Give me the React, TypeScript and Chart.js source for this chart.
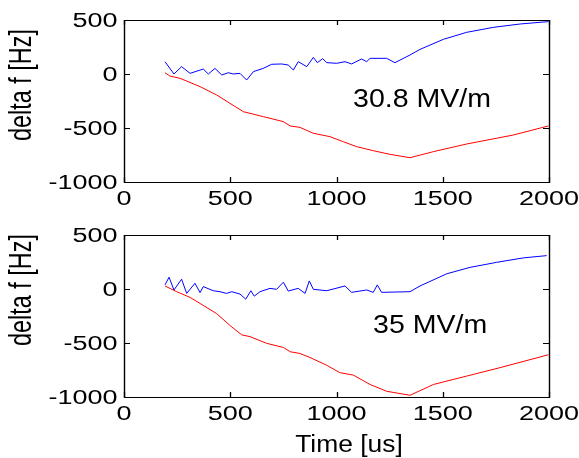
import React, { useEffect, useRef } from 'react';
import { Chart, registerables } from 'chart.js';

Chart.register(...registerables);

// ---------- data ----------
const xTickValues = [0, 500, 1000, 1500, 2000];
const yTickValues = [-1000, -500, 0, 500];
const xTickLabels = ['0', '500', '1000', '1500', '2000'];
const yTickLabels = ['-1000', '-500', '0', '500'];

const yAxisTitle = 'delta f [Hz]';
const xAxisTitle = 'Time [us]';
const topLabel = '30.8 MV/m';
const bottomLabel = '35 MV/m';

// top panel (30.8 MV/m)
const topBlueX = [193, 235, 271, 311, 373, 397, 428, 460, 491, 515, 546, 577, 609, 655, 695, 742, 773, 797, 820, 860, 891, 910, 935, 954, 1001, 1040, 1071, 1118, 1142, 1158, 1236, 1275, 1346, 1393, 1503, 1613, 1738, 1864, 1997];
const topBlueY = [114, 0, 68, 6, 46, 0, 52, -9, 12, 0, 6, -56, 22, 52, 90, 93, 83, 37, 114, 68, 154, 105, 142, 105, 99, 114, 93, 139, 114, 145, 145, 105, 176, 228, 321, 386, 432, 463, 485];
const topRedX = [193, 216, 264, 358, 436, 499, 562, 656, 750, 782, 828, 891, 969, 1032, 1095, 1173, 1252, 1346, 1456, 1613, 1832, 1997];
const topRedY = [12, -19, -40, -117, -194, -272, -349, -395, -441, -481, -494, -549, -580, -627, -673, -710, -744, -775, -719, -648, -565, -481];

// bottom panel (35 MV/m)
const botBlueX = [193, 212, 235, 271, 295, 334, 358, 373, 420, 452, 483, 507, 546, 573, 597, 613, 640, 687, 718, 750, 773, 820, 852, 872, 891, 954, 1040, 1071, 1142, 1173, 1192, 1212, 1346, 1393, 1519, 1628, 1754, 1879, 1989];
const botBlueY = [38, 109, -9, 91, -41, 53, -34, 22, -16, -25, -41, -25, -47, -94, -16, -66, -25, 6, -3, 63, -19, 6, -41, 75, -3, -16, 28, -31, -9, -31, 38, -31, -25, 28, 141, 200, 247, 288, 309];
const botRedX = [193, 248, 311, 358, 436, 499, 554, 593, 671, 750, 782, 828, 875, 954, 1016, 1079, 1158, 1236, 1346, 1456, 1613, 1770, 1997];
const botRedY = [28, -25, -78, -134, -228, -338, -425, -441, -503, -541, -581, -597, -634, -706, -775, -797, -884, -947, -984, -884, -806, -728, -609];

const annotationTop = { x: 1078, y: -303 };
const annotationBottom = { x: 1172, y: -410 };

const FONT = '"Liberation Sans", Arial, sans-serif';

function drawText(ctx: CanvasRenderingContext2D, text: string, x: number, y: number, size: number, sx: number, align: CanvasTextAlign) {
  ctx.save();
  ctx.translate(x, y);
  ctx.scale(sx, 1);
  ctx.font = `${size}px ${FONT}`;
  ctx.fillStyle = '#000';
  ctx.textAlign = align;
  ctx.textBaseline = 'alphabetic';
  ctx.fillText(text, 0, 0);
  ctx.restore();
}

const matlabPlugin = {
  id: 'matlabAxes',
  afterDraw(chart: any, _args: any, opts: any) {
    const ctx: CanvasRenderingContext2D = chart.ctx;
    const a = chart.chartArea;
    const xs = chart.scales.x;
    const ys = chart.scales.y;
    ctx.save();
    ctx.strokeStyle = '#000';
    const L = Math.round(a.left), R = Math.round(a.right), T = Math.round(a.top), B = Math.round(a.bottom);
    // box
    ctx.lineWidth = 1;
    ctx.beginPath();
    ctx.moveTo(L, T + 0.5); ctx.lineTo(R, T + 0.5);
    ctx.moveTo(L, B + 0.5); ctx.lineTo(R, B + 0.5);
    ctx.stroke();
    ctx.lineWidth = 1.4;
    ctx.beginPath();
    ctx.moveTo(L + 0.5, T); ctx.lineTo(L + 0.5, B + 1);
    ctx.moveTo(R + 0.5, T); ctx.lineTo(R + 0.5, B + 1);
    ctx.stroke();
    // inward ticks
    ctx.lineWidth = 1.3;
    ctx.beginPath();
    xTickValues.forEach((v) => {
      const px = Math.round(xs.getPixelForValue(v)) + 0.5;
      ctx.moveTo(px, B); ctx.lineTo(px, B - 5);
      ctx.moveTo(px, T); ctx.lineTo(px, T + 5);
    });
    ctx.stroke();
    ctx.lineWidth = 1;
    ctx.beginPath();
    yTickValues.forEach((v) => {
      const py = Math.round(ys.getPixelForValue(v)) + 0.5;
      ctx.moveTo(L, py); ctx.lineTo(L + 6, py);
      ctx.moveTo(R, py); ctx.lineTo(R - 6, py);
    });
    ctx.stroke();
    ctx.restore();

    // tick labels
    xTickValues.forEach((v, i) => {
      drawText(ctx, xTickLabels[i], xs.getPixelForValue(v), a.bottom + 22.5, 20, 1.35, 'center');
    });
    yTickValues.forEach((v, i) => {
      drawText(ctx, yTickLabels[i], a.left - 6.5, ys.getPixelForValue(v) + 7.2, 20, 1.35, 'right');
    });

    // y title (rotated)
    ctx.save();
    ctx.translate(31, opts.yTitleCenter);
    ctx.rotate(-Math.PI / 2);
    ctx.scale(1, 1.35);
    ctx.font = `23.4px ${FONT}`;
    ctx.fillStyle = '#000';
    ctx.textAlign = 'center';
    ctx.textBaseline = 'alphabetic';
    ctx.fillText(yAxisTitle, 0, 0);
    ctx.restore();

    // annotation
    if (opts.note) {
      drawText(ctx, opts.note.text, xs.getPixelForValue(opts.note.x), ys.getPixelForValue(opts.note.y), 25.6, 1.115, 'left');
    }
    // x title
    if (opts.xTitle) {
      drawText(ctx, xAxisTitle, opts.xTitle.x, opts.xTitle.y, 24.7, 1.07, 'center');
    }
  },
};

function toPoints(xs: number[], ys: number[]) {
  return xs.map((x, i) => ({ x, y: ys[i] }));
}

function makeConfig(blueX: number[], blueY: number[], redX: number[], redY: number[], padTop: number, xAxisHeight: number, pluginOpts: any): any {
  return {
    type: 'line',
    data: {
      datasets: [
        { data: toPoints(blueX, blueY), borderColor: 'rgb(0,0,255)', borderWidth: 1, pointRadius: 0, tension: 0, fill: false },
        { data: toPoints(redX, redY), borderColor: 'rgb(255,0,0)', borderWidth: 1, pointRadius: 0, tension: 0, fill: false },
      ],
    },
    options: {
      responsive: false,
      animation: false,
      events: [],
      layout: { padding: { top: padTop, right: 30, left: 0, bottom: 0 } },
      plugins: {
        legend: { display: false },
        tooltip: { enabled: false },
        matlabAxes: pluginOpts,
      },
      scales: {
        x: {
          type: 'linear',
          min: 0,
          max: 2000,
          ticks: { stepSize: 500, display: false },
          grid: { display: false, drawTicks: false },
          border: { display: false },
          afterFit: (s: any) => { s.height = xAxisHeight; s.paddingLeft = 0; s.paddingRight = 0; },
        },
        y: {
          type: 'linear',
          min: -1000,
          max: 500,
          ticks: { stepSize: 500, display: false },
          grid: { display: false, drawTicks: false },
          border: { display: false },
          afterFit: (s: any) => { s.width = 124; s.paddingTop = 0; s.paddingBottom = 0; },
        },
      },
    },
    plugins: [matlabPlugin],
  };
}

export default function App() {
  const topRef = useRef<HTMLCanvasElement>(null);
  const botRef = useRef<HTMLCanvasElement>(null);

  useEffect(() => {
    const c1 = new Chart(topRef.current as HTMLCanvasElement, makeConfig(topBlueX, topBlueY, topRedX, topRedY, 20, 46, {
      yTitleCenter: 85,
      note: { text: topLabel, x: annotationTop.x, y: annotationTop.y },
    }));
    const c2 = new Chart(botRef.current as HTMLCanvasElement, makeConfig(botBlueX, botBlueY, botRedX, botRedY, 7, 61, {
      yTitleCenter: 62,
      note: { text: bottomLabel, x: annotationBottom.x, y: annotationBottom.y },
      xTitle: { x: 349, y: 224 },
    }));
    return () => { c1.destroy(); c2.destroy(); };
  }, []);

  return (
    <div style={{ position: 'absolute', left: 0, top: 0, width: 579, height: 458, background: '#fff' }}>
      <canvas ref={topRef} width={579} height={228} style={{ position: 'absolute', left: 0, top: 0 }} />
      <canvas ref={botRef} width={579} height={230} style={{ position: 'absolute', left: 0, top: 228 }} />
    </div>
  );
}
